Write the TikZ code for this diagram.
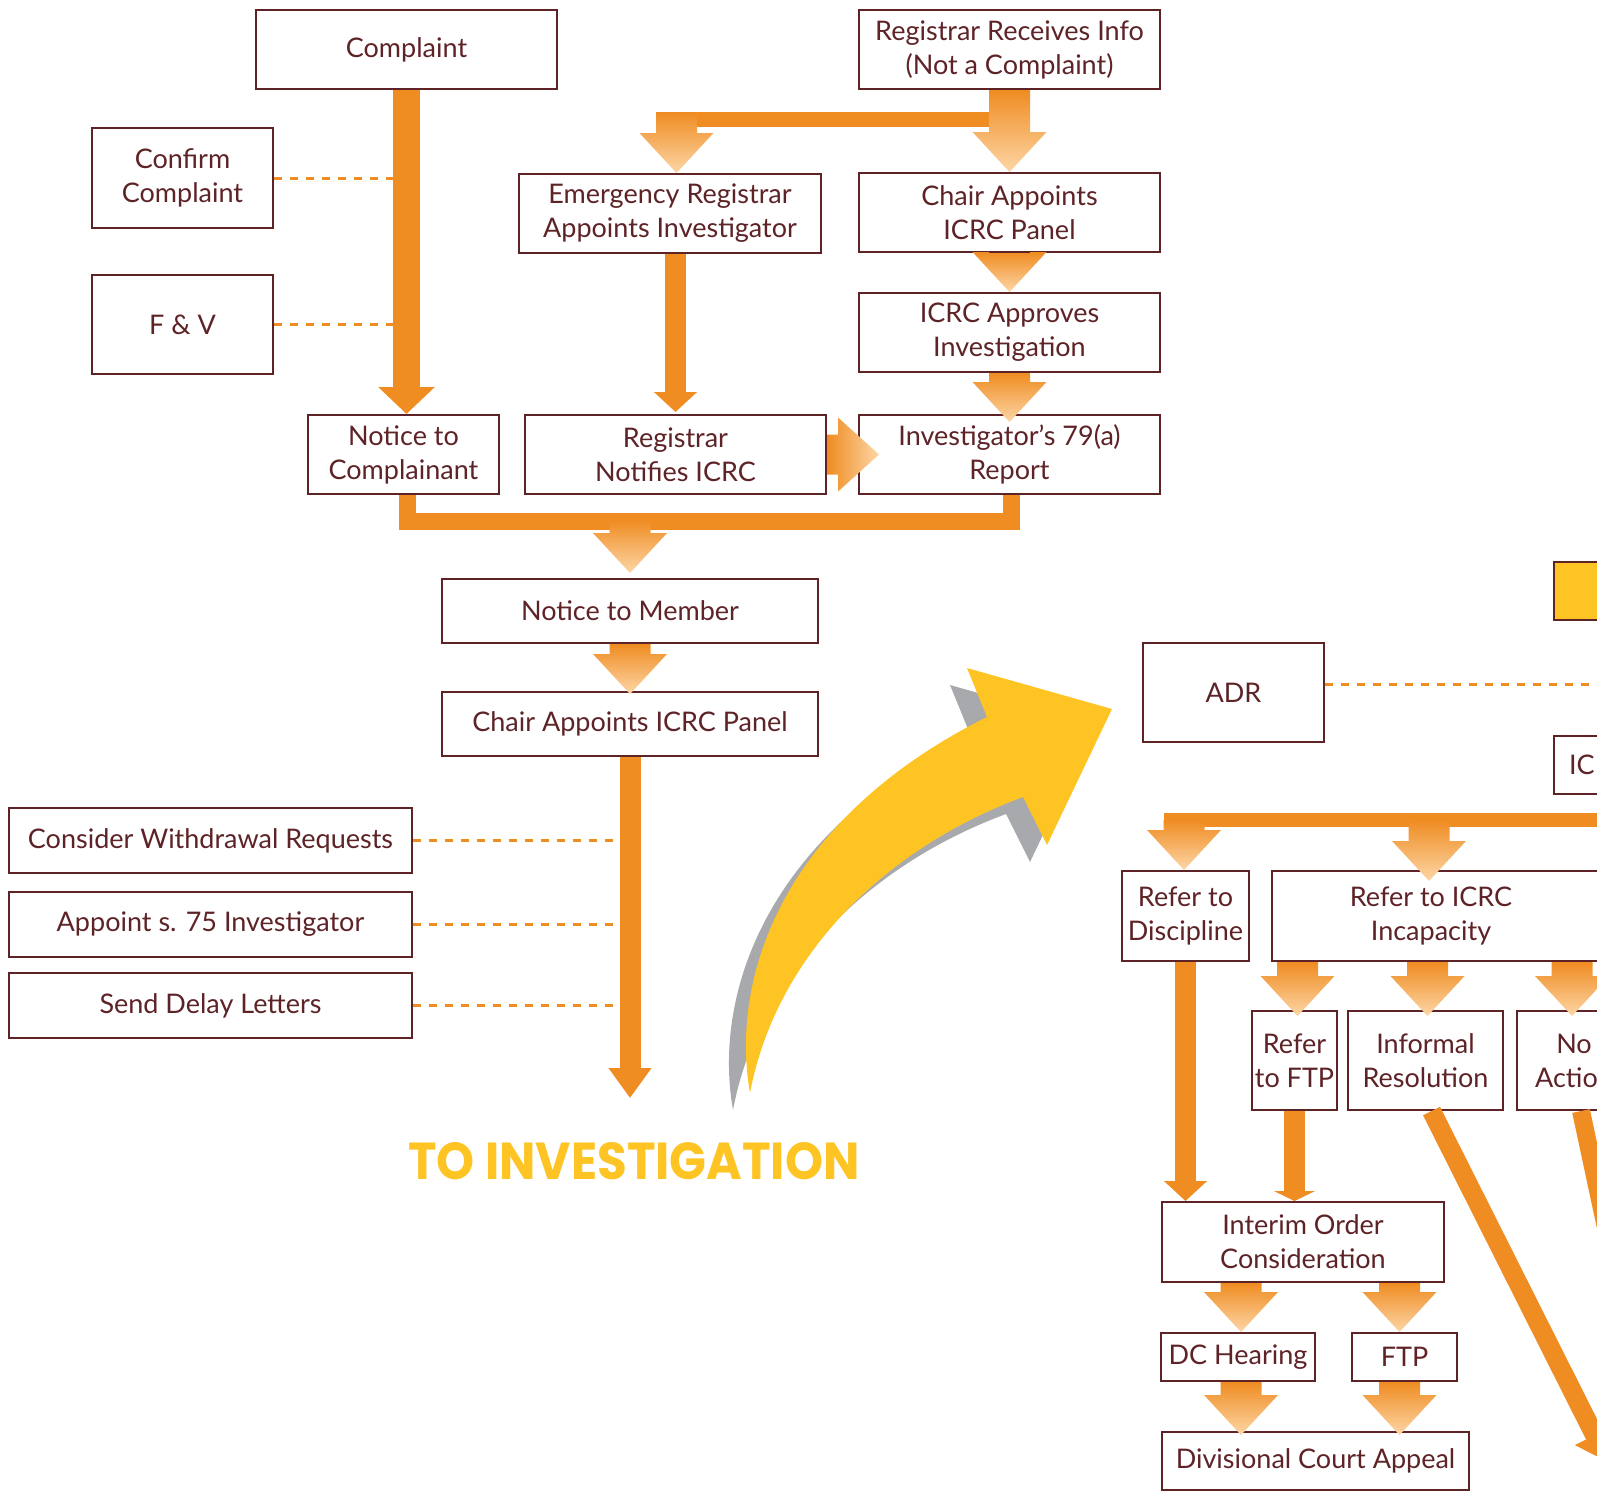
\documentclass[tikz,border=0pt]{standalone}
\usepackage{fontspec}
\usepackage{graphicx}
\setmainfont{Lato}
\newfontfamily\titlefont{Poppins}
\usetikzlibrary{arrows.meta,calc}

\definecolor{boxline}{HTML}{5E2327}
\definecolor{arrorange}{HTML}{EF8C22}
\definecolor{arrpeach}{HTML}{FDD6A6}
\definecolor{titleyellow}{HTML}{FEC424}
\definecolor{shadowgray}{HTML}{A7A9AC}

\newcommand{\fatdown}[2]{%
  \path (#1) coordinate (fs) (#2) coordinate (ft);
  \shade[top color=arrorange, bottom color=arrpeach]
    ($(ft |- fs)+(-20.5,0)$) -- ($(ft |- fs)+(20.5,0)$) -- ($(ft)+(20.5,-40)$)
    -- ($(ft)+(37,-40)$) -- (ft) -- ($(ft)+(-37,-40)$) -- ($(ft)+(-20.5,-40)$) -- cycle;}
\newcommand{\fatright}[2]{%
  \path (#1) coordinate (fs) (#2) coordinate (ft);
  \shade[left color=arrorange, right color=arrpeach]
    ($(fs |- ft)+(0,-20)$) -- ($(ft)+(-41,-20)$) -- ($(ft)+(-41,-37)$) -- (ft)
    -- ($(ft)+(-41,37)$) -- ($(ft)+(-41,20)$) -- ($(fs |- ft)+(0,20)$) -- cycle;}

\begin{document}
\begin{tikzpicture}[x=1pt,y=-1pt]
            \tikzstyle{box} = [draw=boxline, line width=2pt, fill=white, text=boxline, align=center, inner sep=0pt, font=\fontsize{27}{34}\selectfont]
            \tikzstyle{boxtext} = [text=boxline, align=center, font=\fontsize{27}{34}\selectfont]
            \tikzstyle{feed} = [draw=arrorange, line width=3pt, dash pattern=on 8pt off 8pt]
            \tikzstyle{flow} = [draw=arrorange, line width=21pt, -{Triangle[length=20pt,width=42pt]}]
            \tikzstyle{bar} = [draw=arrorange, line width=17pt]
            \useasboundingbox (0,0) rectangle (1597,1494);
            \clip (0,0) rectangle (1597,1494);

            \foreach \dx/\dy/\col in {-17/17/shadowgray, 0/0/titleyellow}
                \fill[\col, shift={(\dx,\dy)}] (750,1093) .. controls (730,980) and (780,820) .. (987,717)
                    -- (967,668) -- (1112,709) -- (1047,845) -- (1023,797)
                    .. controls (880,850) and (775,960) .. (750,1093) -- cycle;
            \node[text=titleyellow, font=\titlefont\bfseries\fontsize{52}{60}\selectfont] (toinvtxt) at (634,1161) {\scalebox{0.93}[1]{TO INVESTIGATION}};

            \node[box, minimum width=301pt, minimum height=79pt] (cmp) at (406.5,49.5) {Complaint};
            \node[box, minimum width=301pt, minimum height=79pt] (reg) at (1009.5,49.5) {Registrar Receives Info\\(Not a Complaint)};
            \node[box, minimum width=181pt, minimum height=100pt] (conf) at (182.5,178) {Confirm\\Complaint};
            \node[box, minimum width=181pt, minimum height=99pt] (fv) at (182.5,324.5) {F \& V};
            \node[box, minimum width=302pt, minimum height=79pt] (emg) at (670,213.5) {Emergency Registrar\\Appoints Investigator};
            \node[box, minimum width=301pt, minimum height=79pt] (chair) at (1009.5,212.5) {Chair Appoints\\ICRC Panel};
            \node[box, minimum width=301pt, minimum height=79pt] (appr) at (1009.5,332.5) {ICRC Approves\\Investigation};
            \node[box, minimum width=191pt, minimum height=79pt] (ncomp) at (403.5,454.5) {Notice to\\Complainant};
            \node[box, minimum width=301pt, minimum height=79pt] (notif) at (675.5,454.5) {Registrar\\Notifies ICRC};
            \node[box, minimum width=301pt, minimum height=79pt] (rep) at (1009.5,454.5) {Investigator’s 79(a)\\Report};
            \node[box, minimum width=376pt, minimum height=64pt] (nmem) at (630,611) {Notice to Member};
            \node[box, minimum width=376pt, minimum height=64pt] (chair2) at (630,724) {Chair Appoints ICRC Panel};
            \node[box, minimum width=403pt, minimum height=65pt] (wdr) at (210.5,840.5) {Consider Withdrawal Requests};
            \node[box, minimum width=403pt, minimum height=65pt] (s75) at (210.5,924.5) {Appoint s. 75 Investigator};
            \node[box, minimum width=403pt, minimum height=65pt] (dly) at (210.5,1005.5) {Send Delay Letters};
            \coordinate (toinv) at (630,1098);

            \node[box, fill=titleyellow, anchor=north west, minimum width=100pt, minimum height=58pt] (yel) at (1553,561) {};
            \node[box, minimum width=181pt, minimum height=99pt] (adr) at (1233.5,692.5) {ADR};
            \node[box, anchor=north west, inner xsep=15pt, text width=100pt, align=left, minimum height=58pt] (ic) at (1553,735) {IC};
            \node[box, minimum width=127pt, minimum height=90pt] (disc) at (1185.5,916) {Refer to\\Discipline};
            \node[box, anchor=west, minimum width=429pt, minimum height=90pt, label={[boxtext, xshift=-55.5pt]center:Refer to ICRC\\Incapacity}] (icrc) at (1271,916) {};
            \node[box, minimum width=85pt, minimum height=99pt] (ftp1) at (1294.5,1060.5) {Refer\\to FTP};
            \node[box, minimum width=155pt, minimum height=99pt] (inf) at (1425.5,1060.5) {Informal\\Resolution};
            \node[box, anchor=west, minimum width=190pt, minimum height=99pt, label={[boxtext, xshift=-38pt]center:No\\Action}] (noact) at (1516,1060.5) {};
            \node[box, minimum width=282pt, minimum height=80pt] (inter) at (1303,1242) {Interim Order\\Consideration};
            \node[box, minimum width=154pt, minimum height=48pt] (dch) at (1238,1357) {DC Hearing};
            \node[box, minimum width=105pt, minimum height=48pt] (ftp2) at (1404.5,1357) {FTP};
            \node[box, minimum width=307pt, minimum height=58pt] (div) at (1315.5,1461) {Divisional Court Appeal};
            \coordinate (offA) at (1608,1462);
            \coordinate (offB) at (1660,1480);

            \draw[feed] (conf.east) -- (conf.east -| cmp.south);
            \draw[feed] (fv.east) -- (fv.east -| cmp.south);
            \draw[feed] (wdr.east) -- (wdr.east -| chair2.south);
            \draw[feed] (s75.east) -- (s75.east -| chair2.south);
            \draw[feed] (dly.east) -- (dly.east -| chair2.south);
            \draw[feed] ([yshift=8pt]adr.east) -- ++(300,0);

            \draw[flow, line width=27pt, -{Triangle[length=27pt,width=55pt]}] (cmp.south) -- (cmp.south |- ncomp.north);
            \draw[flow] (emg.south -| notif.north) -- ($(notif.north)+(0,-2)$);
            \draw[flow, -{Triangle[length=30pt,width=41pt]}] (chair2.south) -- (chair2.south |- toinv);
            \draw[flow] (disc.south) -- (disc.south |- inter.north);
            \draw[flow, -{Triangle[length=10pt,width=41pt]}] (ftp1.south) -- (ftp1.south |- inter.north);
            \draw[flow, line width=19pt, -{Triangle[length=30pt,width=42pt]}] ([xshift=6pt]inf.south) -- (offA);
            \draw[flow, line width=18pt] ([xshift=-31pt]noact.south) -- (offB);

            \fill[arrorange] (656,112) rectangle (1000,127);
            \coordinate (jn) at (676.5,112);
            \draw[bar] ([xshift=4pt]ncomp.south) -- ++(0,26) -| ([xshift=1.5pt]rep.south);
            \fill[arrorange] (1164,813) rectangle (1700,827);
            \coordinate (bd) at (1184,820);
            \coordinate (bi) at (1429,820);

            \fatdown{reg.south}{chair.north}
            \fatdown{jn}{jn |- emg.north}
            \fatdown{chair.south}{appr.north}
            \fatdown{appr.south}{$(rep.north)+(0,8)$}
            \fatright{notif.east}{$(rep.west)+(21,0)$}
            \fatdown{$(nmem.north)+(0,-58)$}{$(nmem.north)+(0,-5)$}
            \fatdown{nmem.south}{$(chair2.north)+(0,3)$}

            \fatdown{bd}{bd |- disc.north}
            \fatdown{bi}{$(bi |- icrc.north)+(0,11)$}
            \fatdown{icrc.south -| ftp1.north}{$(ftp1.north)+(3,6)$}
            \fatdown{icrc.south -| inf.north}{$(inf.north)+(2,6)$}
            \fatdown{$(icrc.south -| noact.north)+(-40,0)$}{$(noact.north)+(-40,6)$}
            \fatdown{inter.south -| dch.north}{$(dch.north)+(3,0)$}
            \fatdown{inter.south -| ftp2.north}{$(ftp2.north)+(-5,0)$}
            \fatdown{dch.south}{$(dch.south |- div.north)+(3,4)$}
            \fatdown{ftp2.south}{$(ftp2.south |- div.north)+(-5,4)$}
        \end{tikzpicture}
\end{document}
